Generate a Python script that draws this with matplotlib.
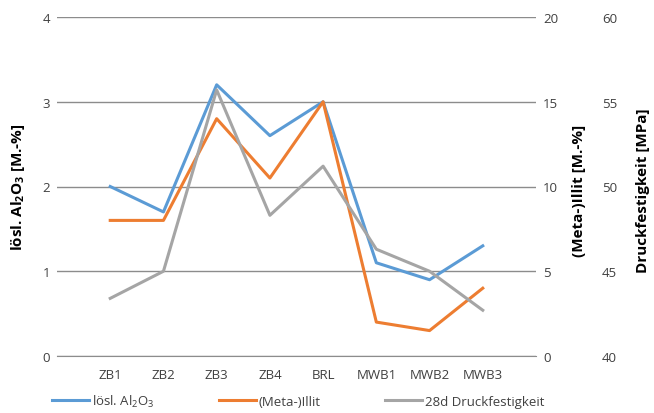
import matplotlib
matplotlib.use("Agg")
import matplotlib.pyplot as plt

plt.rcParams['font.family'] = ['Open Sans', 'DejaVu Sans']
plt.rcParams['mathtext.fontset'] = 'custom'
plt.rcParams['mathtext.rm'] = 'Open Sans'
plt.rcParams['mathtext.bf'] = 'Open Sans:bold'
plt.rcParams['mathtext.default'] = 'regular'

samples = ['ZB1', 'ZB2', 'ZB3', 'ZB4', 'BRL', 'MWB1', 'MWB2', 'MWB3']
al2o3 = [2.0, 1.7, 3.2, 2.6, 3.0, 1.1, 0.9, 1.3]
illit = [8.0, 8.0, 14.0, 10.5, 15.0, 2.0, 1.5, 4.0]
druck = [43.4, 45.0, 55.7, 48.3, 51.2, 46.3, 45.0, 42.7]

c_blue = '#5B9BD5'
c_orange = '#ED7D31'
c_gray = '#A5A5A5'
grid_c = '#8C8C8C'
text_c = '#404040'

fig = plt.figure(figsize=(6.54, 4.14), dpi=100)
ax = fig.add_axes([57 / 654, 57 / 414, 479 / 654, 339 / 414])
ax2 = ax.twinx()
ax3 = ax.twinx()

x = list(range(len(samples)))
l1, = ax.plot(x, al2o3, color=c_blue, lw=2.2, label='lösl. Al$_2$O$_3$')
l2, = ax2.plot(x, illit, color=c_orange, lw=2.2, label='(Meta-)Illit')
l3, = ax3.plot(x, druck, color=c_gray, lw=2.2, label='28d Druckfestigkeit')

ax.set_xlim(-1, 8)
ax.set_ylim(0, 4)
ax.set_yticks([0, 1, 2, 3, 4])
ax2.set_ylim(0, 20)
ax2.set_yticks([0, 5, 10, 15, 20])
ax3.set_ylim(40, 60)
ax3.set_yticks([40, 45, 50, 55, 60])
ax.set_xticks(x)
ax.set_xticklabels(samples)

ax.grid(axis='y', color=grid_c, lw=1)
ax.set_axisbelow(True)
for a in (ax, ax2, ax3):
    for s in a.spines.values():
        s.set_visible(False)
    a.tick_params(length=0, labelsize=9.5, labelcolor=text_c)
ax.spines['bottom'].set_visible(True)
ax.spines['bottom'].set_color(grid_c)
ax.tick_params(axis='x', pad=9)
ax.tick_params(axis='y', pad=5)
ax2.tick_params(axis='y', pad=5)
ax3.spines['right'].set_position(('outward', 42.5))
ax3.tick_params(axis='y', pad=5)

ax.set_ylabel(r'lösl. Al$_\mathbf{2}$O$_\mathbf{3}$ [M.-%]', fontsize=11,
              fontweight='bold', color='#000000')
ax.yaxis.set_label_coords(-0.062, 0.5)
ax2.set_ylabel('(Meta-)Illit [M.-%]', fontsize=11, fontweight='bold')
ax2.yaxis.set_label_coords(1.075, 0.49)
ax3.set_ylabel('Druckfestigkeit [MPa]', fontsize=11, fontweight='bold')
ax3.yaxis.set_label_coords(1.209, 0.49)

fig.legend(handles=[l1, l2, l3], loc='center', bbox_to_anchor=(0.456, 0.029),
           ncol=3, frameon=False, fontsize=9.5, handlelength=2.8,
           handletextpad=0.2, columnspacing=4.9, labelcolor=text_c)

fig.savefig('out.png', dpi=100)
